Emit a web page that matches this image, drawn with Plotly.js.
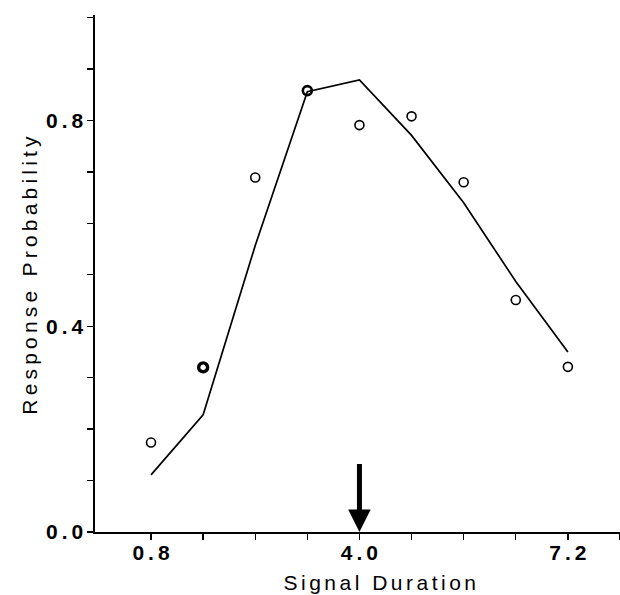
<!DOCTYPE html>
<html>
<head>
<meta charset="utf-8">
<script src="https://cdn.plot.ly/plotly-3.0.1.min.js"></script>
<style>
  html, body { margin: 0; padding: 0; background: #fff; }
  #chart { width: 620px; height: 595px; }
</style>
</head>
<body>
<div id="chart"></div>
<script>
// Signal durations (x) and response probabilities
const durations = [0.8, 1.6, 2.4, 3.2, 4.0, 4.8, 5.6, 6.4, 7.2];
const observed = [0.174, 0.320, 0.689, 0.858, 0.791, 0.808, 0.680, 0.451, 0.321];
const predicted = [0.111, 0.228, 0.557, 0.856, 0.879, 0.771, 0.640, 0.487, 0.350];

// Tick positions and labels
const xTickVals = [0.8, 1.6, 2.4, 3.2, 4.0, 4.8, 5.6, 6.4, 7.2, 8.0];
const xTickText = ['0.8', '', '', '', '4.0', '', '', '', '7.2', ''];
const yTickVals = [0, 0.1, 0.2, 0.3, 0.4, 0.5, 0.6, 0.7, 0.8, 0.9, 1.0];
const yTickText = ['0.0', '', '', '', '0.4', '', '', '', '0.8', '', ''];

// Arrow marking the trained duration
const arrowX = 4.0;
const arrowTop = 0.135;

const FONT = '"Liberation Sans", Arial, Helvetica, sans-serif';

const data = [
  {
    x: durations, y: predicted, type: 'scatter', mode: 'lines',
    line: { color: '#000', width: 1.7 }, hoverinfo: 'skip', showlegend: false
  },
  {
    x: durations, y: observed, type: 'scatter', mode: 'markers',
    marker: {
      symbol: 'circle-open', size: 9, color: '#000',
      line: { color: '#000', width: [1.6, 3.4, 1.6, 2.6, 1.6, 1.6, 1.6, 1.6, 1.6] }
    },
    showlegend: false
  }
];

const layout = {
  width: 620, height: 595,
  margin: { l: 95, r: 0, t: 15, b: 63 },
  paper_bgcolor: '#fff', plot_bgcolor: '#fff',
  font: { family: FONT, color: '#000', size: 21 },
  xaxis: {
    range: [-0.06, 8.0], showgrid: false, zeroline: false,
    showline: true, linecolor: '#000', linewidth: 1.6,
    ticks: 'outside', ticklen: 6, tickwidth: 1.4, tickcolor: '#000',
    ticklabelstandoff: -5,
    tickmode: 'array', tickvals: xTickVals, ticktext: xTickText,
    tickfont: { family: FONT, size: 21, color: '#000', weight: 'bold' },
    title: { text: 'Signal Duration', font: { family: FONT, size: 21, color: '#000' }, standoff: 12 }
  },
  yaxis: {
    range: [0, 1.005], showgrid: false, zeroline: false,
    showline: true, linecolor: '#000', linewidth: 1.6,
    ticks: 'outside', ticklen: 6, tickwidth: 1.4, tickcolor: '#000',
    tickmode: 'array', tickvals: yTickVals, ticktext: yTickText,
    tickfont: { family: FONT, size: 21, color: '#000', weight: 'bold' },
    title: { text: 'Response Probability', font: { family: FONT, size: 21, color: '#000' }, standoff: 10 }
  },
  annotations: [{
    x: arrowX, y: 0, ax: arrowX, ay: arrowTop,
    xref: 'x', yref: 'y', axref: 'x', ayref: 'y',
    text: '', showarrow: true, arrowhead: 2, arrowsize: 0.9, arrowwidth: 5, arrowcolor: '#000'
  }]
};

Plotly.newPlot('chart', data, layout, { staticPlot: true, displayModeBar: false }).then(function (gd) {
  gd.querySelectorAll('.xtick text').forEach(function (t) {
    t.style.letterSpacing = '4px'; t.setAttribute('dx', '2');
  });
  gd.querySelectorAll('.ytick text').forEach(function (t) {
    t.style.letterSpacing = '4px'; t.setAttribute('dx', '4');
  });
  const xt = gd.querySelector('.xtitle');
  if (xt) {
    xt.style.letterSpacing = '3.5px';
    xt.setAttribute('x', parseFloat(xt.getAttribute('x')) + 24);
  }
  const yt = gd.querySelector('.ytitle');
  if (yt) { yt.style.letterSpacing = '4.2px'; }
});
</script>
</body>
</html>
